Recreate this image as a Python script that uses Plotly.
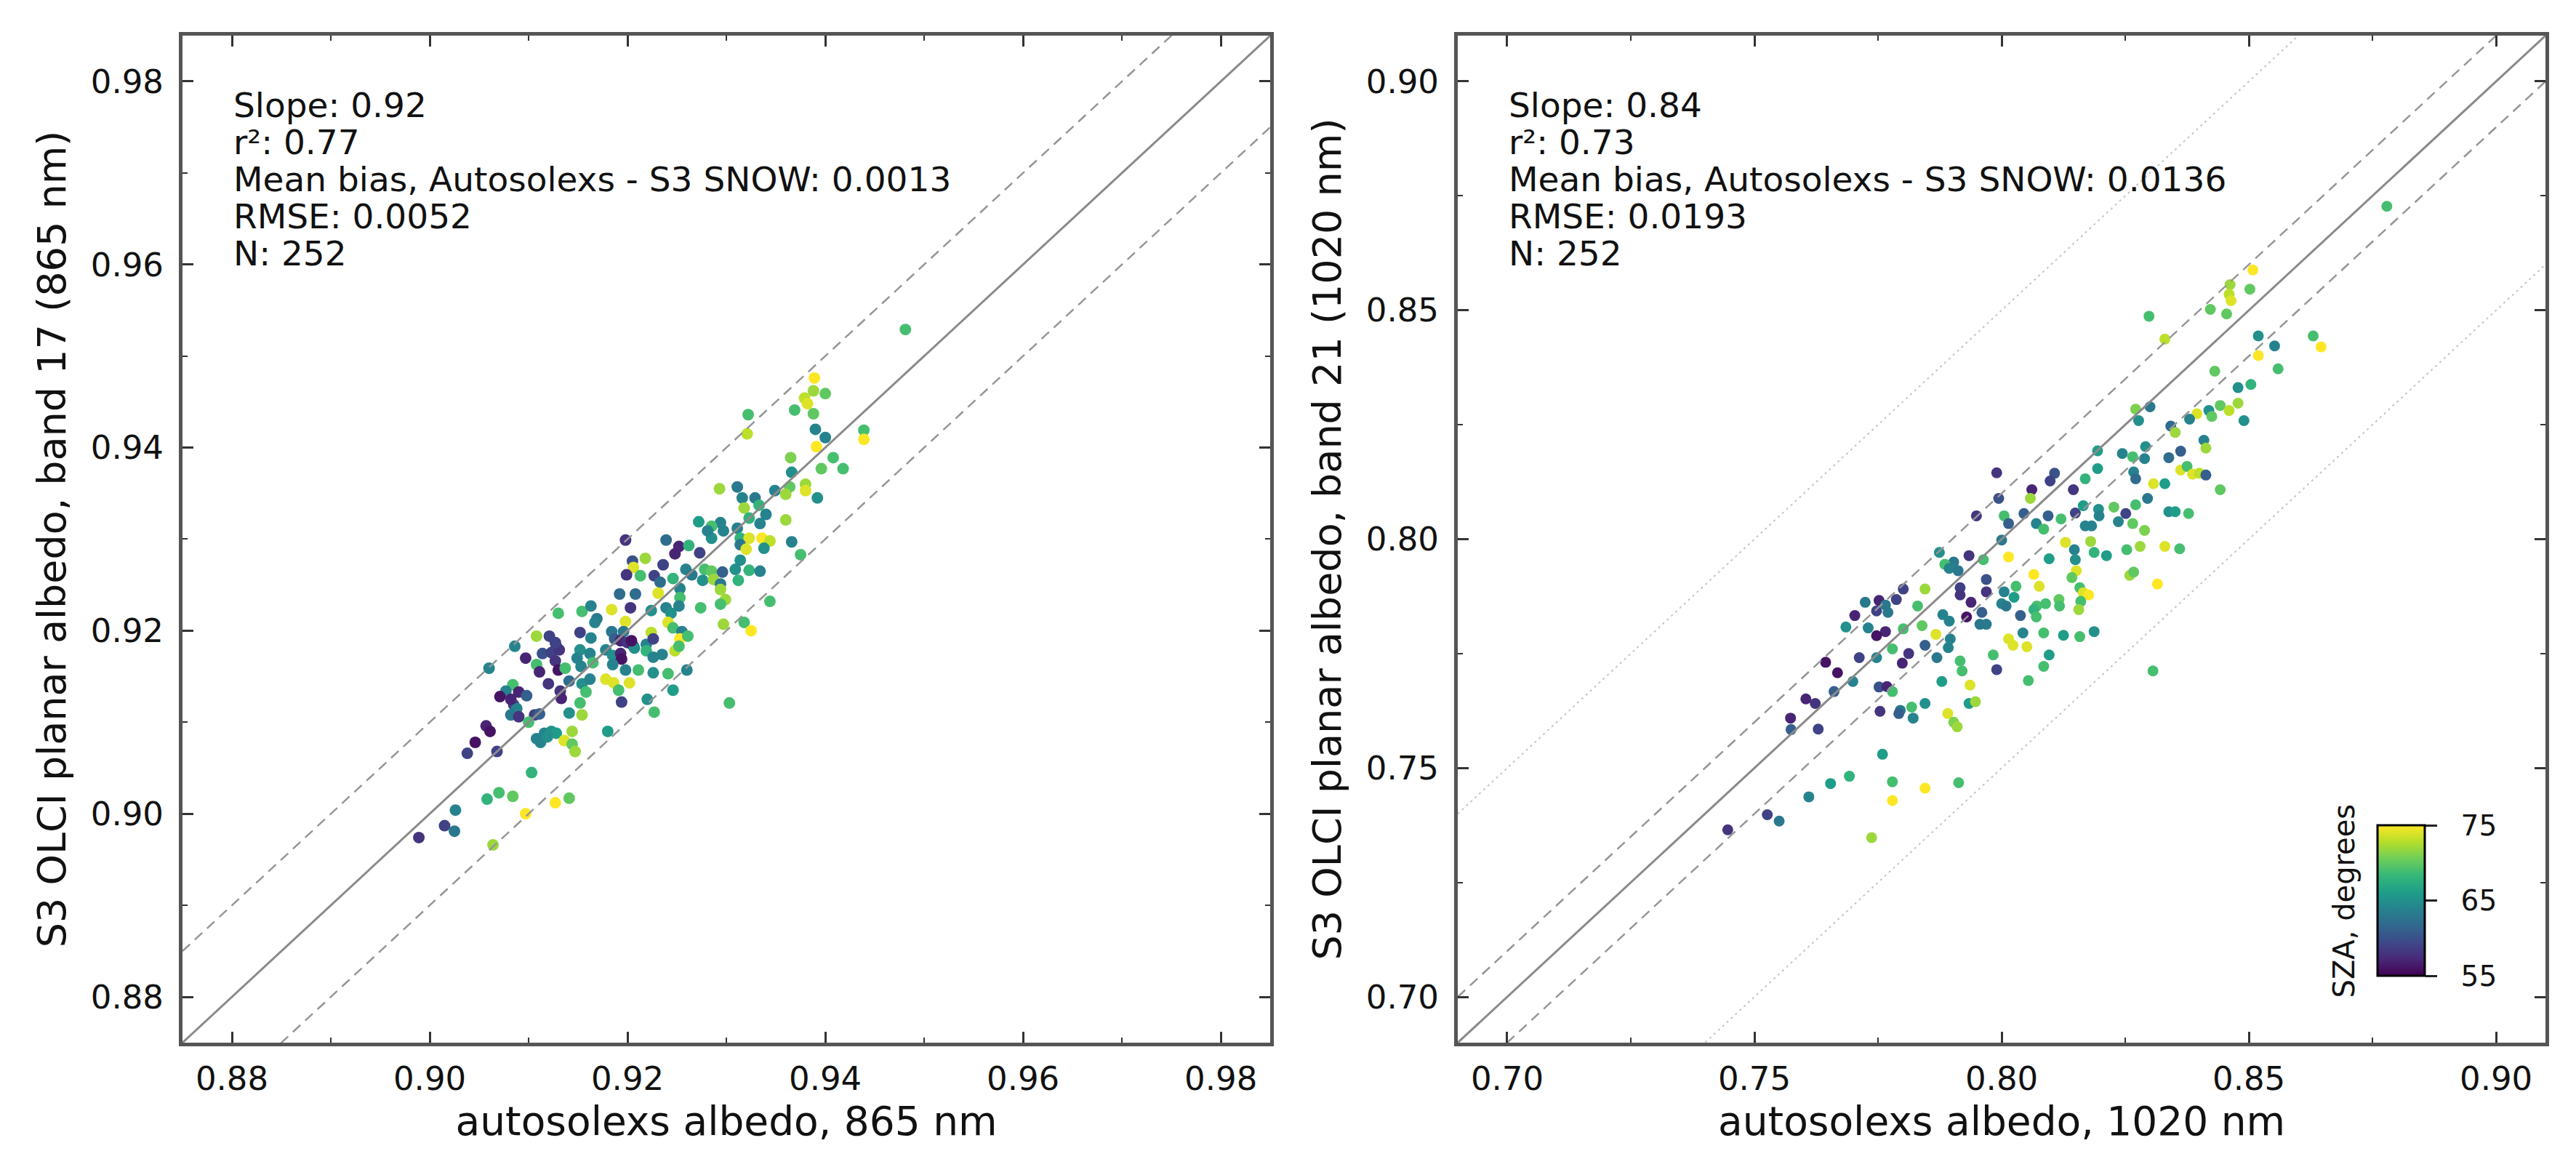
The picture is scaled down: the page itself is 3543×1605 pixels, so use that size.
import plotly.graph_objects as go

# autosolexs vs S3 OLCI planar albedo, band 17 (865 nm)
x_865 = [0.9481, 0.9389, 0.9388, 0.9400, 0.9379, 0.9382, 0.9369, 0.9388, 0.9322, 0.9321,
         0.9390, 0.9400, 0.9439, 0.9439, 0.9391, 0.9365, 0.9408, 0.9396, 0.9418, 0.9366,
         0.9293, 0.9311, 0.9364, 0.9380, 0.9380, 0.9349, 0.9360, 0.9392, 0.9316, 0.9329,
         0.9318, 0.9340, 0.9360, 0.9272, 0.9294, 0.9285, 0.9311, 0.9323, 0.9334, 0.9285,
         0.9297, 0.9314, 0.9323, 0.9336, 0.9344, 0.9366, 0.9314, 0.9320, 0.9338, 0.9198,
         0.9239, 0.9252, 0.9262, 0.9248, 0.9273, 0.9205, 0.9218, 0.9236, 0.9206, 0.9314,
         0.9375, 0.9199, 0.9213, 0.9227, 0.9233, 0.9246, 0.9259, 0.9265, 0.9278, 0.9285,
         0.9296, 0.9309, 0.9323, 0.9334, 0.9276, 0.9287, 0.9294, 0.9312, 0.9192, 0.9208,
         0.9231, 0.9253, 0.9253, 0.9294, 0.9299, 0.9344, 0.9203, 0.9184, 0.9154, 0.9130,
         0.9163, 0.9169, 0.9224, 0.9239, 0.9244, 0.9252, 0.9274, 0.9294, 0.9198, 0.9241,
         0.9246, 0.9255, 0.9152, 0.9184, 0.9196, 0.9224, 0.9297, 0.9318, 0.9325, 0.9108,
         0.9121, 0.9163, 0.9187, 0.9193, 0.9200, 0.9206, 0.9219, 0.9226, 0.9253, 0.9261,
         0.9086, 0.9128, 0.9114, 0.9123, 0.9131, 0.9152, 0.9162, 0.9178, 0.9185, 0.9193,
         0.9207, 0.9219, 0.9226, 0.9235, 0.9248, 0.9252, 0.9097, 0.9127, 0.9149, 0.9165,
         0.9194, 0.9060, 0.9108, 0.9111, 0.9130, 0.9137, 0.9153, 0.9185, 0.9198, 0.9211,
         0.9226, 0.9241, 0.9260, 0.9120, 0.9141, 0.9154, 0.9162, 0.9178, 0.9186, 0.9202,
         0.9084, 0.9077, 0.9071, 0.9090, 0.9098, 0.9132, 0.9133, 0.9158, 0.9191, 0.9246,
         0.9085, 0.9088, 0.9082, 0.9090, 0.9106, 0.9111, 0.9152, 0.9194, 0.9220, 0.9303,
         0.9141, 0.9154, 0.9227, 0.9100, 0.9057, 0.9061, 0.9108, 0.9116, 0.9123, 0.9128,
         0.9136, 0.9144, 0.9144, 0.9147, 0.9180, 0.9046, 0.9038, 0.9068, 0.9103, 0.9058,
         0.9070, 0.9084, 0.9127, 0.9141, 0.9097, 0.9026, 0.9015, 0.9025, 0.8989, 0.9064,
         0.9112, 0.9119, 0.9204, 0.9127, 0.9167, 0.9281, 0.9333, 0.9082]
y_865 = [0.9529, 0.9476, 0.9462, 0.9459, 0.9454, 0.9448, 0.9441, 0.9437, 0.9436, 0.9415,
         0.9420, 0.9411, 0.9419, 0.9409, 0.9401, 0.9389, 0.9389, 0.9377, 0.9377, 0.9373,
         0.9355, 0.9357, 0.9357, 0.9360, 0.9353, 0.9353, 0.9349, 0.9345, 0.9345, 0.9345,
         0.9334, 0.9327, 0.9321, 0.9319, 0.9318, 0.9314, 0.9312, 0.9323, 0.9317, 0.9301,
         0.9309, 0.9301, 0.9301, 0.9301, 0.9298, 0.9297, 0.9294, 0.9289, 0.9290, 0.9299,
         0.9299, 0.9292, 0.9293, 0.9284, 0.9285, 0.9276, 0.9279, 0.9272, 0.9269, 0.9277,
         0.9283, 0.9261, 0.9260, 0.9260, 0.9253, 0.9257, 0.9267, 0.9261, 0.9267, 0.9265,
         0.9264, 0.9267, 0.9266, 0.9265, 0.9255, 0.9256, 0.9251, 0.9255, 0.9240, 0.9240,
         0.9241, 0.9246, 0.9236, 0.9245, 0.9234, 0.9232, 0.9225, 0.9223, 0.9221, 0.9219,
         0.9227, 0.9213, 0.9222, 0.9225, 0.9219, 0.9227, 0.9225, 0.9229, 0.9210, 0.9209,
         0.9203, 0.9199, 0.9198, 0.9199, 0.9199, 0.9198, 0.9207, 0.9209, 0.9200, 0.9194,
         0.9194, 0.9192, 0.9191, 0.9189, 0.9187, 0.9183, 0.9185, 0.9191, 0.9191, 0.9194,
         0.9183, 0.9183, 0.9175, 0.9176, 0.9179, 0.9179, 0.9175, 0.9179, 0.9173, 0.9175,
         0.9181, 0.9178, 0.9171, 0.9174, 0.9178, 0.9183, 0.9170, 0.9167, 0.9170, 0.9165,
         0.9169, 0.9159, 0.9163, 0.9155, 0.9157, 0.9159, 0.9161, 0.9163, 0.9157, 0.9157,
         0.9154, 0.9153, 0.9157, 0.9142, 0.9145, 0.9142, 0.9147, 0.9147, 0.9143, 0.9143,
         0.9141, 0.9134, 0.9128, 0.9133, 0.9129, 0.9134, 0.9126, 0.9133, 0.9135, 0.9135,
         0.9119, 0.9115, 0.9108, 0.9106, 0.9108, 0.9109, 0.9121, 0.9122, 0.9125, 0.9121,
         0.9110, 0.9108, 0.9111, 0.9100, 0.9096, 0.9090, 0.9082, 0.9088, 0.9090, 0.9088,
         0.9080, 0.9090, 0.9076, 0.9068, 0.9090, 0.9078, 0.9066, 0.9068, 0.9045, 0.9016,
         0.9023, 0.9019, 0.9012, 0.9017, 0.9000, 0.9004, 0.8987, 0.8981, 0.8974, 0.8966,
         0.9078, 0.9084, 0.9189, 0.9187, 0.9209, 0.9309, 0.9337, 0.9125]
sza_865 = [69, 75, 72, 70, 73, 74, 69, 70, 69, 73,
           64, 64, 69, 75, 75, 71, 69, 70, 69, 65,
           72, 63, 70, 72, 74, 64, 72, 65, 64, 63,
           72, 64, 72, 66, 64, 69, 64, 68, 64, 65,
           64, 68, 74, 75, 73, 64, 63, 74, 65, 58,
           62, 57, 68, 57, 59, 60, 72, 59, 74, 65,
           69, 58, 69, 59, 62, 68, 64, 63, 69, 70,
           61, 65, 68, 64, 65, 72, 63, 68, 62, 62,
           74, 64, 69, 72, 72, 69, 58, 74, 69, 69,
           64, 63, 65, 64, 65, 64, 69, 69, 74, 74,
           69, 64, 59, 63, 63, 73, 72, 69, 75, 72,
           59, 64, 61, 57, 58, 57, 64, 59, 75, 69,
           64, 57, 60, 59, 58, 65, 64, 64, 65, 57,
           65, 68, 64, 64, 73, 69, 57, 58, 64, 69,
           56, 64, 69, 57, 56, 69, 64, 64, 64, 69,
           65, 69, 64, 58, 62, 65, 64, 74, 74, 74,
           69, 64, 56, 57, 61, 58, 57, 69, 69, 66,
           59, 64, 63, 58, 59, 61, 69, 59, 65, 69,
           65, 72, 69, 69, 57, 56, 64, 64, 65, 66,
           74, 72, 70, 72, 66, 56, 59, 59, 68, 68,
           69, 70, 75, 70, 75, 64, 59, 63, 58, 72,
           64, 65, 56, 59, 64, 64, 68, 57]

# autosolexs vs S3 OLCI planar albedo, band 21 (1020 nm)
x_1020 = [0.8779, 0.8508, 0.8462, 0.8460, 0.8464, 0.8502, 0.8298, 0.8422, 0.8455, 0.8330,
          0.8519, 0.8552, 0.8630, 0.8646, 0.8519, 0.8431, 0.8559, 0.8478, 0.8504, 0.8271,
          0.8300, 0.8277, 0.8395, 0.8419, 0.8425, 0.8442, 0.8460, 0.8478, 0.8490, 0.8342,
          0.8351, 0.8380, 0.8409, 0.8413, 0.8194, 0.8244, 0.8265, 0.8291, 0.8289, 0.8338,
          0.8362, 0.8194, 0.8169, 0.8267, 0.8271, 0.8307, 0.8330, 0.8362, 0.8375, 0.8386,
          0.8400, 0.8413, 0.8442, 0.7990, 0.8107, 0.8098, 0.8061, 0.7994, 0.8145, 0.8058,
          0.8045, 0.8005, 0.7949, 0.8094, 0.8120, 0.8149, 0.8165, 0.8196, 0.8197, 0.8227,
          0.8236, 0.8251, 0.8271, 0.8295, 0.8265, 0.8289, 0.8338, 0.8351, 0.8378, 0.8014,
          0.8070, 0.8085, 0.8169, 0.8182, 0.8000, 0.8129, 0.8180, 0.8147, 0.8187, 0.8212,
          0.8253, 0.8280, 0.8330, 0.8360, 0.7874, 0.7934, 0.7903, 0.7885, 0.7963, 0.8014,
          0.8096, 0.8149, 0.7894, 0.7912, 0.7969, 0.8065, 0.8151, 0.8142, 0.8259, 0.8267,
          0.8315, 0.7801, 0.7845, 0.7916, 0.7969, 0.8005, 0.8029, 0.8076, 0.8158, 0.8165,
          0.8176, 0.7724, 0.7752, 0.7765, 0.7787, 0.7830, 0.7916, 0.7938, 0.8000, 0.8025,
          0.8071, 0.8089, 0.8116, 0.8160, 0.7703, 0.7747, 0.7770, 0.7881, 0.7894, 0.7929,
          0.7960, 0.8009, 0.8038, 0.8065, 0.8070, 0.8117, 0.8156, 0.7685, 0.7730, 0.7765,
          0.7747, 0.7801, 0.7839, 0.7867, 0.7896, 0.7956, 0.7969, 0.8043, 0.8085, 0.8125,
          0.8158, 0.8187, 0.7712, 0.7747, 0.7779, 0.7812, 0.7845, 0.7892, 0.7799, 0.7869,
          0.7916, 0.7983, 0.8014, 0.8023, 0.8051, 0.8096, 0.7644, 0.7668, 0.7699, 0.7752,
          0.7768, 0.7779, 0.7879, 0.7920, 0.7990, 0.8085, 0.8054, 0.7936, 0.7604, 0.7623,
          0.7661, 0.7573, 0.7574, 0.7629, 0.7754, 0.7795, 0.7792, 0.7818, 0.7821, 0.7845,
          0.7934, 0.7947, 0.7891, 0.7903, 0.7910, 0.8306, 0.7759, 0.7654, 0.7692, 0.7779,
          0.7845, 0.7913, 0.7779, 0.7610, 0.7526, 0.7550, 0.7446, 0.7737]
y_1020 = [0.8727, 0.8588, 0.8556, 0.8535, 0.8521, 0.8546, 0.8487, 0.8502, 0.8492, 0.8437,
          0.8444, 0.8422, 0.8444, 0.8420, 0.8401, 0.8367, 0.8372, 0.8331, 0.8338, 0.8284,
          0.8289, 0.8259, 0.8274, 0.8281, 0.8268, 0.8292, 0.8281, 0.8297, 0.8259, 0.8247,
          0.8233, 0.8262, 0.8216, 0.8199, 0.8193, 0.8187, 0.8180, 0.8202, 0.8176, 0.8178,
          0.8192, 0.8154, 0.8132, 0.8147, 0.8132, 0.8121, 0.8121, 0.8151, 0.8159, 0.8142,
          0.8144, 0.8140, 0.8108, 0.8145, 0.8144, 0.8127, 0.8108, 0.8089, 0.8108, 0.8089,
          0.8056, 0.8051, 0.8051, 0.8051, 0.8044, 0.8057, 0.8073, 0.8065, 0.8051, 0.8070,
          0.8038, 0.8056, 0.8075, 0.8089, 0.8034, 0.8019, 0.8060, 0.8060, 0.8056, 0.8034,
          0.8034, 0.8022, 0.8029, 0.8029, 0.7998, 0.7993, 0.7995, 0.7977, 0.7971, 0.7964,
          0.7977, 0.7984, 0.7984, 0.7979, 0.7971, 0.7964, 0.7950, 0.7945, 0.7955, 0.7961,
          0.7957, 0.7955, 0.7936, 0.7931, 0.7912, 0.7923, 0.7931, 0.7916, 0.7921, 0.7928,
          0.7902, 0.7891, 0.7891, 0.7894, 0.7885, 0.7885, 0.7897, 0.7897, 0.7894, 0.7883,
          0.7878, 0.7862, 0.7866, 0.7856, 0.7868, 0.7854, 0.7878, 0.7862, 0.7859, 0.7873,
          0.7854, 0.7859, 0.7868, 0.7864, 0.7833, 0.7843, 0.7840, 0.7835, 0.7821, 0.7830,
          0.7840, 0.7854, 0.7833, 0.7846, 0.7830, 0.7854, 0.7846, 0.7808, 0.7806, 0.7798,
          0.7789, 0.7804, 0.7811, 0.7792, 0.7782, 0.7814, 0.7814, 0.7795, 0.7795, 0.7790,
          0.7787, 0.7798, 0.7741, 0.7741, 0.7760, 0.7750, 0.7768, 0.7763, 0.7729, 0.7741,
          0.7734, 0.7747, 0.7782, 0.7768, 0.7765, 0.7747, 0.7731, 0.7708, 0.7689, 0.7677,
          0.7678, 0.7667, 0.7689, 0.7712, 0.7715, 0.7722, 0.7691, 0.7681, 0.7651, 0.7641,
          0.7667, 0.7609, 0.7584, 0.7585, 0.7624, 0.7626, 0.7619, 0.7633, 0.7609, 0.7641,
          0.7641, 0.7645, 0.7619, 0.7600, 0.7590, 0.7712, 0.7530, 0.7466, 0.7482, 0.7470,
          0.7456, 0.7468, 0.7429, 0.7437, 0.7398, 0.7384, 0.7365, 0.7348]
sza_1020 = [69, 75, 72, 73, 74, 70, 69, 70, 70, 73,
            65, 64, 69, 75, 75, 70, 69, 65, 68, 71,
            63, 65, 74, 65, 70, 70, 73, 72, 65, 62,
            72, 64, 64, 72, 66, 64, 69, 65, 64, 62,
            61, 66, 68, 64, 62, 74, 66, 74, 69, 74,
            73, 61, 70, 58, 60, 59, 57, 60, 58, 72,
            61, 69, 58, 61, 69, 59, 66, 65, 64, 70,
            64, 59, 69, 63, 70, 71, 65, 66, 69, 61,
            64, 69, 64, 64, 63, 74, 72, 64, 68, 66,
            69, 72, 74, 69, 65, 58, 63, 69, 69, 75,
            66, 65, 64, 63, 60, 75, 74, 70, 72, 70,
            75, 59, 72, 59, 58, 64, 69, 74, 69, 74,
            75, 63, 57, 63, 59, 69, 58, 57, 64, 66,
            69, 69, 70, 69, 57, 59, 63, 64, 64, 56,
            61, 63, 61, 68, 69, 69, 72, 65, 64, 57,
            56, 69, 70, 74, 64, 63, 63, 64, 69, 66,
            69, 65, 59, 64, 69, 58, 61, 64, 57, 63,
            69, 69, 74, 74, 74, 66, 56, 56, 64, 60,
            57, 69, 66, 69, 59, 69, 69, 74, 57, 58,
            61, 57, 61, 59, 58, 63, 61, 69, 64, 65,
            66, 72, 74, 71, 72, 69, 66, 66, 68, 69,
            75, 69, 75, 64, 59, 63, 58, 72]

stats_865 = ["Slope: 0.92", "r\u00b2: 0.77",
             "Mean bias, Autosolexs - S3 SNOW: 0.0013", "RMSE: 0.0052", "N: 252"]
stats_1020 = ["Slope: 0.84", "r\u00b2: 0.73",
              "Mean bias, Autosolexs - S3 SNOW: 0.0136", "RMSE: 0.0193", "N: 252"]

range_865 = [0.875, 0.985]
range_1020 = [0.69, 0.91]
sza_ticks = [55, 65, 75]

FONT = "DejaVu Sans"

fig = go.Figure()

fig.add_trace(go.Scatter(x=x_865, y=y_865, mode="markers", xaxis="x", yaxis="y",
                         marker=dict(size=16, color=sza_865, coloraxis="coloraxis"),
                         showlegend=False))
fig.add_trace(go.Scatter(x=x_1020, y=y_1020, mode="markers", xaxis="x2", yaxis="y2",
                         marker=dict(size=15, color=sza_1020, coloraxis="coloraxis"),
                         showlegend=False))

# 1:1 line with +/-0.01 (dashed) and +/-0.05 (dotted) envelopes
ref_lines = [(0.0, "solid", "#8a8a8a", 3),
             (0.01, "14px,9px", "#969696", 2.5), (-0.01, "14px,9px", "#969696", 2.5),
             (0.05, "3px,5px", "#c4c4c4", 2), (-0.05, "3px,5px", "#c4c4c4", 2)]
for rng, xa, ya, offs in [(range_865, "x", "y", ref_lines[:3]),
                          (range_1020, "x2", "y2", ref_lines)]:
    for off, dash, col, w in offs:
        fig.add_trace(go.Scatter(x=rng, y=[v + off for v in rng], mode="lines",
                                 xaxis=xa, yaxis=ya, hoverinfo="skip", showlegend=False,
                                 line=dict(color=col, width=w, dash=dash)))

axis_style = dict(showline=True, linewidth=5, linecolor="#555555", mirror="allticks",
                  ticks="inside", ticklen=15, tickwidth=2.5, tickcolor="#333333",
                  showgrid=False, zeroline=False, tickformat=".2f",
                  tickfont=dict(family=FONT, size=45, color="#111111"))
minor_style = dict(ticks="inside", ticklen=7, tickwidth=2, tickcolor="#333333")

fig.update_layout(
    width=3527, height=1589, autosize=False,
    margin=dict(l=0, r=0, t=0, b=0),
    paper_bgcolor="white", plot_bgcolor="white",
    font=dict(family=FONT, color="#111111"),
    xaxis=dict(axis_style, domain=[0.0689, 0.4931], range=range_865, dtick=0.02, tick0=0.88,
               minor=dict(minor_style, dtick=0.01), ticklabelstandoff=6,
               title=dict(text="autosolexs albedo, 865 nm", font=dict(size=55), standoff=12)),
    yaxis=dict(axis_style, domain=[0.1026, 0.9742], range=range_865, dtick=0.02, tick0=0.88,
               minor=dict(minor_style, dtick=0.01), ticklabelstandoff=12,
               title=dict(text="S3 OLCI planar albedo, band 17 (865 nm)", font=dict(size=54), standoff=18)),
    xaxis2=dict(axis_style, domain=[0.5662, 0.9904], range=range_1020, dtick=0.05, tick0=0.70,
                minor=dict(minor_style, dtick=0.025), ticklabelstandoff=6, anchor="y2",
                title=dict(text="autosolexs albedo, 1020 nm", font=dict(size=55), standoff=12)),
    yaxis2=dict(axis_style, domain=[0.1026, 0.9742], range=range_1020, dtick=0.05, tick0=0.70,
                minor=dict(minor_style, dtick=0.025), ticklabelstandoff=12, anchor="x2",
                title=dict(text="S3 OLCI planar albedo, band 21 (1020 nm)", font=dict(size=54), standoff=18)),
    coloraxis=dict(colorscale="Viridis", cmin=55, cmax=75,
                   colorbar=dict(x=0.9249, xanchor="left", y=0.2256, yanchor="middle",
                                 thickness=65, lenmode="pixels", len=207,
                                 outlinewidth=3, outlinecolor="black", xpad=0, ypad=0,
                                 ticks="outside", ticklen=16, tickwidth=2.5, tickcolor="#222222",
                                 tickvals=sza_ticks,
                                 ticktext=["\u00a0\u00a0" + str(t) for t in sza_ticks],
                                 tickfont=dict(family=FONT, size=39, color="#111111"))),
)

# statistics text, one annotation per row
for stats, xa, ya, x0 in [(stats_865, "x", "y domain", 0.88), (stats_1020, "x2", "y2 domain", 0.70)]:
    for i, line in enumerate(stats):
        fig.add_annotation(x=x0, y=0.931 - i * 0.0368, xref=xa, yref=ya,
                           text=line, showarrow=False, xanchor="left", yanchor="middle",
                           font=dict(family=FONT, size=47, color="#111111"))

# colorbar title sits on the left of the bar
fig.add_annotation(x=0.9118, y=0.2256, xref="paper", yref="paper", text="SZA, degrees",
                   textangle=-90, showarrow=False, xanchor="center", yanchor="middle",
                   font=dict(family=FONT, size=40, color="#111111"))

fig.write_html("out.html")
